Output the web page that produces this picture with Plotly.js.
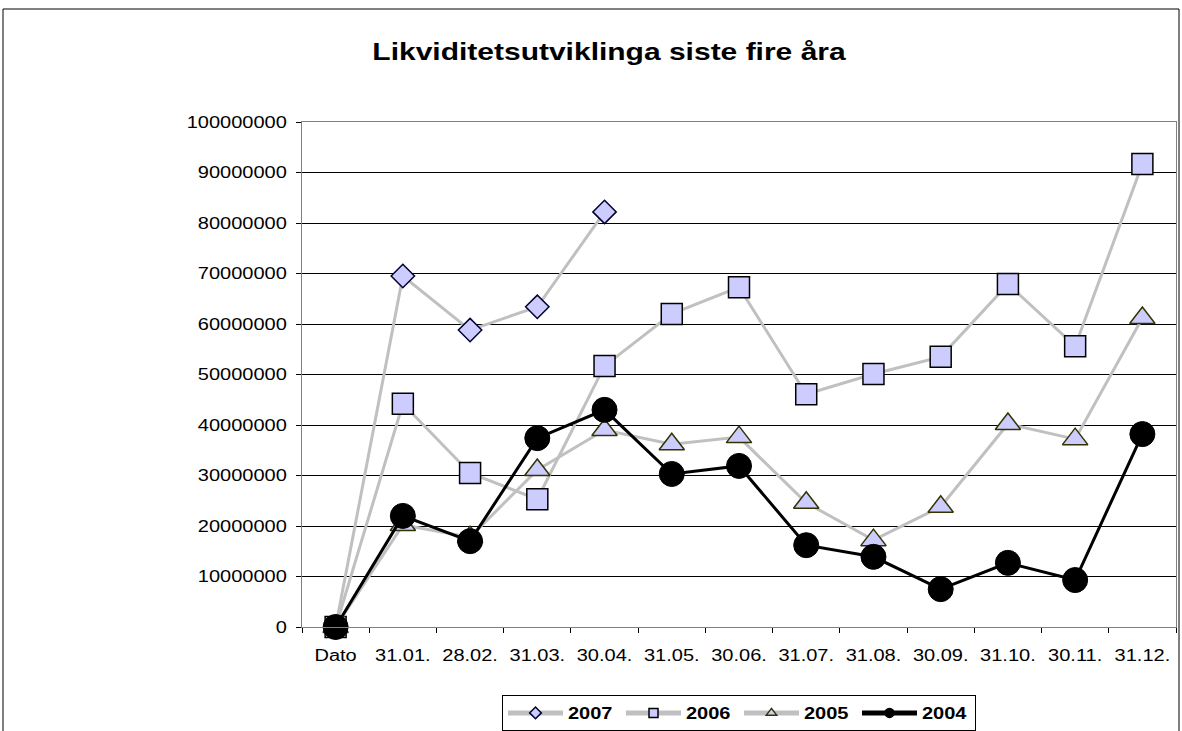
<!DOCTYPE html>
<html>
<head>
<meta charset="utf-8">
<script src="https://cdn.plot.ly/plotly-3.0.1.min.js"></script>
<style>
  html, body { margin: 0; padding: 0; background: #ffffff; }
  #chart { width: 1182px; height: 731px; }
</style>
</head>
<body>
<div id="chart"></div>
<script>
const categories = ["Dato", "31.01.", "28.02.", "31.03.", "30.04.", "31.05.", "30.06.", "31.07.", "31.08.", "30.09.", "31.10.", "30.11.", "31.12."];

const values2007 = [0, 69500000, 58800000, 63400000, 82200000];
const values2006 = [0, 44200000, 30500000, 25300000, 51700000, 62000000, 67300000, 46100000, 50100000, 53500000, 67900000, 55600000, 91700000];
const values2005 = [0, 20200000, 17800000, 31100000, 39000000, 36200000, 37600000, 24600000, 17200000, 23800000, 40200000, 37200000, 61200000];
const values2004 = [0, 22000000, 17000000, 37400000, 43000000, 30300000, 31900000, 16200000, 13900000, 7500000, 12700000, 9300000, 38200000];

const seriesNames = ["2007", "2006", "2005", "2004"];
const titleText = "Likviditetsutviklinga siste fire åra";

const FONT = "Arial, 'Liberation Sans', sans-serif";
const STRETCH = 1.25;

const traces = [
  {
    name: seriesNames[0],
    x: categories.slice(0, values2007.length),
    y: values2007,
    mode: "lines+markers",
    line: { color: "#c0c0c0", width: 3 },
    marker: { symbol: "diamond", size: 18, color: "#ccccff", line: { color: "#000033", width: 1.5 } },
    cliponaxis: false
  },
  {
    name: seriesNames[1],
    x: categories,
    y: values2006,
    mode: "lines+markers",
    line: { color: "#c0c0c0", width: 3 },
    marker: { symbol: "square", size: 21, color: "#ccccff", line: { color: "#000000", width: 1.5 } },
    cliponaxis: false
  },
  {
    name: seriesNames[2],
    x: categories,
    y: values2005,
    mode: "lines+markers",
    line: { color: "#c0c0c0", width: 3 },
    marker: { symbol: "triangle-up", size: 22, color: "#ccccff", line: { color: "#333300", width: 1.5 } },
    cliponaxis: false
  },
  {
    name: seriesNames[3],
    x: categories,
    y: values2004,
    mode: "lines+markers",
    line: { color: "#000000", width: 3 },
    marker: { symbol: "circle", size: 25, color: "#000000", line: { color: "#000000", width: 1 } },
    cliponaxis: false
  }
];

const layout = {
  width: 1182,
  height: 731,
  margin: { l: 302, r: 6, t: 122, b: 104, pad: 0 },
  paper_bgcolor: "#ffffff",
  plot_bgcolor: "#ffffff",
  font: { family: FONT, color: "#000000", size: 16 },
  title: {
    text: "<b>" + titleText + "</b>",
    font: { family: FONT, size: 24, color: "#000000" },
    xref: "container", x: 609 / 1182, xanchor: "center",
    yref: "container", y: 1 - 52 / 731, yanchor: "middle"
  },
  showlegend: true,
  legend: {
    orientation: "h",
    xref: "container", x: 739 / 1182, xanchor: "center",
    yref: "container", y: 0, yanchor: "bottom",
    bgcolor: "#ffffff",
    bordercolor: "#000000",
    borderwidth: 1,
    font: { family: FONT, size: 16, color: "#000000", weight: "bold" },
    entrywidth: 73,
    itemsizing: "constant",
    traceorder: "normal"
  },
  xaxis: {
    type: "category",
    categoryorder: "array",
    categoryarray: categories,
    range: [-0.5, 12.5],
    showgrid: false,
    zeroline: false,
    showline: true,
    linecolor: "#808080",
    linewidth: 1,
    mirror: true,
    ticks: "outside",
    tickson: "boundaries",
    ticklen: 5,
    tickcolor: "#000000",
    tickfont: { family: FONT, size: 16, color: "#000000" },
    ticklabelstandoff: 14,
    fixedrange: true
  },
  yaxis: {
    range: [0, 100000000],
    dtick: 10000000,
    tick0: 0,
    tickformat: "d",
    showgrid: true,
    gridcolor: "#000000",
    gridwidth: 1,
    zeroline: true,
    zerolinecolor: "#000000",
    zerolinewidth: 1,
    showline: true,
    linecolor: "#808080",
    linewidth: 1,
    mirror: true,
    ticks: "outside",
    ticklen: 5,
    tickcolor: "#000000",
    tickfont: { family: FONT, size: 16, color: "#000000" },
    ticklabelstandoff: 6,
    fixedrange: true
  },
  shapes: [
    {
      type: "rect",
      xref: "paper", yref: "paper",
      x0: (3 - 302) / 874, x1: (1179 - 302) / 874,
      y0: (627 - 740) / 505, y1: (627 - 9) / 505,
      line: { color: "#000000", width: 1 },
      fillcolor: "rgba(0,0,0,0)",
      layer: "below"
    }
  ]
};

function stretchText(el) {
  const x = parseFloat(el.getAttribute("x")) || 0;
  const t = el.getAttribute("transform") || "";
  el.setAttribute("transform", (t + " translate(" + x + ",0) scale(" + STRETCH + ",1) translate(" + (-x) + ",0)").trim());
}

Plotly.newPlot("chart", traces, layout, { displayModeBar: false, staticPlot: true }).then(function (gd) {
  // Excel-style legend entries: longer line with a small marker in the middle
  gd.querySelectorAll(".legend .traces").forEach(function (tr) {
    const line = tr.querySelector(".js-line");
    if (line) line.setAttribute("d", "M5,0h55");
    tr.querySelectorAll(".legendpoints path.scatterpts").forEach(function (p) {
      p.setAttribute("transform", "translate(32.5,0) scale(0.75)");
    });
    const txt = tr.querySelector(".legendtext");
    if (txt) txt.setAttribute("x", 65);
  });
  gd.querySelectorAll(".gtitle, .xtick text, .ytick text, .legendtext").forEach(stretchText);
});
</script>
</body>
</html>
